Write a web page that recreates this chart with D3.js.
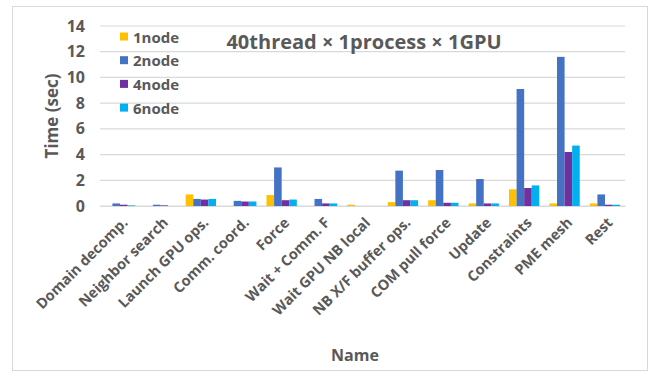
<!DOCTYPE html>
<html><head><meta charset="utf-8">
<script src="https://cdn.jsdelivr.net/npm/d3@7"></script>
<style>body{margin:0;background:#fff;} text{font-family:"Open Sans","Noto Sans",sans-serif;font-weight:700;fill:#595959;}</style>
</head><body>
<svg id="c" width="653" height="379"></svg>
<script>
const categories = ["Domain decomp.","Neighbor search","Launch GPU ops.","Comm. coord.","Force","Wait + Comm. F","Wait GPU NB local","NB X/F buffer ops.","COM pull force","Update","Constraints","PME mesh","Rest"];
const seriesNames = ["1node","2node","4node","6node"];
const node1 = [0, 0, 0.9, 0, 0.85, 0, 0.1, 0.3, 0.45, 0.2, 1.3, 0.2, 0.2];
const node2 = [0.2, 0.1, 0.55, 0.4, 3.0, 0.55, 0, 2.75, 2.8, 2.1, 9.1, 11.6, 0.9];
const node4 = [0.1, 0.05, 0.5, 0.35, 0.45, 0.2, 0, 0.45, 0.25, 0.2, 1.4, 4.2, 0.1];
const node6 = [0.05, 0, 0.55, 0.35, 0.5, 0.2, 0, 0.45, 0.25, 0.2, 1.6, 4.7, 0.1];
const yTicks = [0,2,4,6,8,10,12,14];
const colors = ["#FFC000","#4472C4","#7030A0","#00B0F0"];
const title = "40thread × 1process × 1GPU";

const svg = d3.select("#c");
svg.append("rect").attr("x",12.5).attr("y",6.5).attr("width",635).attr("height",364).attr("fill","#fff").attr("stroke","#d9d9d9");

const m = {l:100, r:625, t:26, b:206};
const x = d3.scaleBand().domain(categories).range([m.l, m.r]).paddingInner(0.25).paddingOuter(0.12);
const y = d3.scaleLinear().domain([0,14]).range([m.b, m.t]);
const series = [node1,node2,node4,node6];
const xs = d3.scaleBand().domain(seriesNames).range([0, x.bandwidth()]);

// grid
svg.append("g").selectAll("line").data(yTicks).join("line")
  .attr("x1",m.l).attr("x2",m.r).attr("y1",d=>y(d)).attr("y2",d=>y(d))
  .attr("stroke","#d9d9d9").attr("stroke-width",1.2);

// y axis labels
const ya = svg.append("g").attr("transform",`translate(${m.l},0)`).call(d3.axisLeft(y).tickValues(yTicks).tickSize(0).tickPadding(15));
ya.select(".domain").remove();
ya.selectAll("text").style("font-size","16px").style("font-family",'"Open Sans","Noto Sans",sans-serif').style("font-weight","700").attr("fill","#595959");

// bars
seriesNames.forEach((s,i)=>{
  svg.append("g").selectAll("rect").data(series[i]).join("rect")
    .attr("x",(d,j)=>x(categories[j])+xs(s))
    .attr("y",d=>y(d)).attr("height",d=>y(0)-y(d))
    .attr("width",xs.bandwidth()).attr("fill",colors[i]);
});

// x axis
const xa = svg.append("g").attr("transform",`translate(0,${m.b})`).call(d3.axisBottom(x).tickSize(0).tickPadding(0));
xa.select(".domain").attr("stroke","#d9d9d9").attr("stroke-width",1.2);
xa.selectAll("text").style("font-size","14.5px").style("font-family",'"Open Sans","Noto Sans",sans-serif').style("font-weight","700").attr("fill","#595959")
  .attr("text-anchor","end").attr("dy","0.35em").attr("transform","translate(5,14) rotate(-45)");

// titles
svg.append("text").attr("x",364).attr("y",49).attr("text-anchor","middle").style("font-size","20px").text(title);
svg.append("text").attr("transform","translate(58,116) rotate(-90)").attr("text-anchor","middle").style("font-size","17px").text("Time (sec)");
svg.append("text").attr("x",355).attr("y",361).attr("text-anchor","middle").style("font-size","16px").text("Name");

// legend
const lg = svg.append("g");
seriesNames.forEach((s,i)=>{
  const yy = 37 + i*23.7;
  lg.append("rect").attr("x",120).attr("y",yy-4.5).attr("width",8).attr("height",8).attr("fill",colors[i]);
  lg.append("text").attr("x",133).attr("y",yy+5.5).style("font-size","15px").text(s);
});
</script>
</body></html>
